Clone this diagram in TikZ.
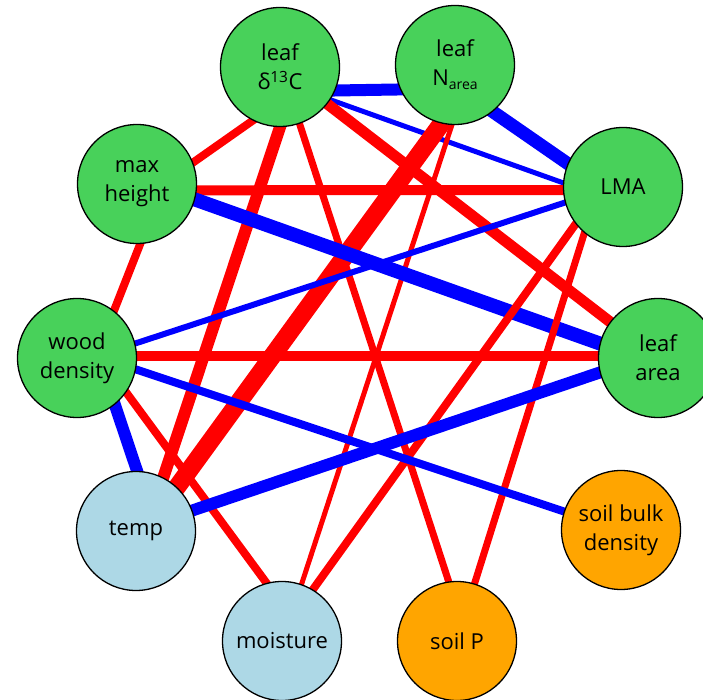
\documentclass[tikz,border=0pt]{standalone}
\usepackage{fontspec}
\setmainfont{Open Sans}
\usetikzlibrary{backgrounds}
\definecolor{ngreen}{RGB}{72,209,90}
\definecolor{nlblue}{RGB}{173,216,230}
\definecolor{norange}{RGB}{255,165,0}
\begin{document}
\begin{tikzpicture}[x=1pt,y=1pt,
  vnode/.style={circle,draw=black,line width=1.3pt,minimum size=119pt,inner sep=0pt,align=center,font=\fontsize{22}{29}\selectfont},
  gnode/.style={vnode,fill=ngreen},
  bnode/.style={vnode,fill=nlblue},
  onode/.style={vnode,fill=norange},
  posedge/.style={draw=red,shorten <=-14pt,shorten >=-14pt},
  negedge/.style={draw=blue,shorten <=-14pt,shorten >=-14pt}]
\useasboundingbox (0,0) rectangle (703,700);
\node[gnode] (d13c) at (280,633) {leaf\\δ\textsuperscript{13}C};
\node[gnode] (narea) at (455,635) {leaf\\N\raisebox{-4pt}{\fontsize{14}{14}\selectfont area}};
\node[gnode] (lma) at (623,513) {LMA};
\node[gnode] (larea) at (658,342) {leaf\\area};
\node[onode] (sbd) at (621,170) {soil bulk\\density};
\node[onode] (soilp) at (457,59) {soil P};
\node[bnode] (moist) at (282,59) {moisture};
\node[bnode] (temp) at (136,169) {temp};
\node[gnode] (wood) at (77,342) {wood\\density};
\node[gnode] (maxh) at (137,516) {max\\height};
\begin{scope}[on background layer]
\draw[negedge,line width=12] (d13c.-23) -- (narea.-156);
\draw[negedge,line width=5] (d13c.-33) -- (lma.176);
\draw[posedge,line width=11] (d13c.-38) -- (larea.143);
\draw[posedge,line width=8] (d13c.-117) -- (maxh.21);
\draw[posedge,line width=12] (d13c.-90) -- (temp.63);
\draw[posedge,line width=7] (d13c.-71) -- (soilp.98);
\draw[negedge,line width=13] (narea.-51) -- (lma.157);
\draw[posedge,line width=18] (narea.-103) -- (temp.47);
\draw[posedge,line width=5] (narea.-93) -- (moist.71);
\draw[posedge,line width=10] (maxh.-6) -- (lma.-177);
\draw[negedge,line width=14] (maxh.-15) -- (larea.166);
\draw[posedge,line width=8] (maxh.-87) -- (wood.52);
\draw[negedge,line width=6] (lma.-165) -- (wood.14);
\draw[posedge,line width=8] (lma.-142) -- (moist.59);
\draw[posedge,line width=7] (lma.-130) -- (soilp.73);
\draw[posedge,line width=10] (wood.2) -- (larea.178);
\draw[negedge,line width=12] (wood.-51) -- (temp.89);
\draw[posedge,line width=8] (wood.-35) -- (moist.105);
\draw[negedge,line width=8] (wood.-11) -- (sbd.162);
\draw[negedge,line width=12] (temp.20) -- (larea.-166);
\end{scope}
\end{tikzpicture}
\end{document}
